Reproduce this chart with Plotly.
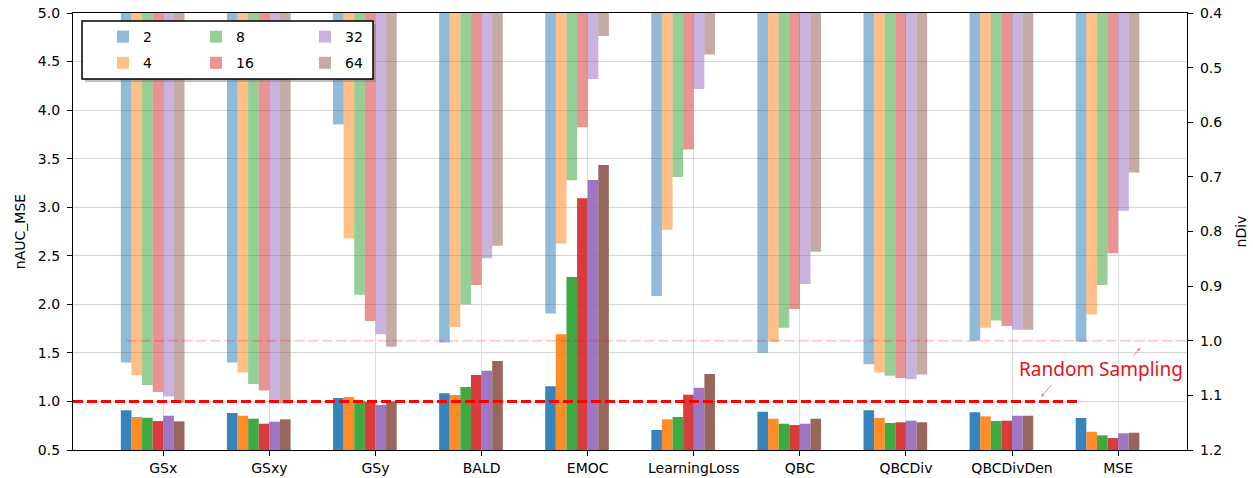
import plotly.graph_objects as go

categories = ["GSx", "GSxy", "GSy", "BALD", "EMOC", "LearningLoss", "QBC", "QBCDiv", "QBCDivDen", "MSE"]
sizes = ["2", "4", "8", "16", "32", "64"]

# nAUC_MSE (left axis, bars rising from bottom)
nauc_2 = [0.910, 0.880, 1.035, 1.084, 1.157, 0.706, 0.894, 0.909, 0.888, 0.830]
nauc_4 = [0.840, 0.853, 1.046, 1.066, 1.691, 0.816, 0.822, 0.830, 0.847, 0.688]
nauc_8 = [0.832, 0.822, 1.008, 1.149, 2.281, 0.840, 0.771, 0.778, 0.798, 0.651]
nauc_16 = [0.798, 0.771, 0.994, 1.272, 3.092, 1.069, 0.757, 0.785, 0.802, 0.623]
nauc_32 = [0.853, 0.791, 0.963, 1.317, 3.280, 1.141, 0.771, 0.802, 0.853, 0.672]
nauc_64 = [0.795, 0.816, 1.001, 1.416, 3.435, 1.282, 0.822, 0.785, 0.853, 0.678]

# nDiv (right, inverted axis, bars hanging from top)
ndiv_2 = [1.040, 1.040, 0.604, 1.003, 0.950, 0.918, 1.022, 1.043, 1.000, 1.002]
ndiv_4 = [1.063, 1.058, 0.813, 0.975, 0.822, 0.797, 1.002, 1.058, 0.976, 0.952]
ndiv_8 = [1.081, 1.079, 0.916, 0.933, 0.706, 0.700, 0.976, 1.064, 0.963, 0.898]
ndiv_16 = [1.094, 1.091, 0.964, 0.898, 0.609, 0.650, 0.942, 1.068, 0.973, 0.840]
ndiv_32 = [1.102, 1.112, 0.988, 0.849, 0.521, 0.539, 0.896, 1.070, 0.980, 0.762]
ndiv_64 = [1.113, 1.115, 1.011, 0.826, 0.442, 0.476, 0.837, 1.062, 0.980, 0.692]

random_sampling_level = 1.0
annotation_text = "Random Sampling"

nauc_all = [nauc_2, nauc_4, nauc_8, nauc_16, nauc_32, nauc_64]
ndiv_all = [ndiv_2, ndiv_4, ndiv_8, ndiv_16, ndiv_32, ndiv_64]

tab = [(31, 119, 180), (255, 127, 14), (44, 160, 44), (214, 39, 40), (148, 103, 189), (140, 86, 75)]


def rgba(c, a):
    return f"rgba({c[0]},{c[1]},{c[2]},{a})"


FONT = "DejaVu Sans"
W, H = 1253, 478
ML, MR, MT, MB = 73, 66, 13, 28
PW, PH = W - ML - MR, H - MT - MB

bar_w = 0.1
legend_ids = ["legend", "legend", "legend2", "legend2", "legend3", "legend3"]

fig = go.Figure()
for i, s in enumerate(sizes):
    off = (i - 4) * bar_w
    fig.add_trace(go.Bar(
        x=categories, y=nauc_all[i], width=bar_w, offset=off,
        marker=dict(color=rgba(tab[i], 0.9), line=dict(width=0)),
        yaxis="y", showlegend=False, name=s,
    ))
for i, s in enumerate(sizes):
    off = (i - 4) * bar_w
    fig.add_trace(go.Bar(
        x=categories, y=ndiv_all[i], width=bar_w, offset=off,
        marker=dict(color=rgba(tab[i], 0.5), line=dict(width=0)),
        yaxis="y2", showlegend=True, name=s, legend=legend_ids[i], legendgroup="g" + s,
    ))


def px_x(px):
    return (px - ML) / PW


def px_y(py):
    return 1 - (py - MT) / PH


shapes = [
    dict(type="line", xref="paper", yref="y", x0=0, x1=0.905,
         y0=random_sampling_level, y1=random_sampling_level,
         line=dict(color="red", width=3, dash="10px,4px"), layer="above"),
    dict(type="line", xref="paper", yref="y2", x0=0.048, x1=1,
         y0=random_sampling_level, y1=random_sampling_level,
         line=dict(color="rgba(255,0,0,0.2)", width=2, dash="10px,4px"), layer="above"),
    dict(type="rect", xref="paper", yref="paper",
         x0=px_x(85), x1=px_x(376), y0=px_y(82), y1=px_y(24),
         fillcolor="rgba(128,128,128,0.5)", line=dict(width=0), layer="above"),
    dict(type="rect", xref="paper", yref="paper",
         x0=px_x(82), x1=px_x(373), y0=px_y(79), y1=px_y(21),
         fillcolor="white", line=dict(color="black", width=1.5), layer="above"),
]

annotations = [
    dict(x=8.84, y=1.334, xref="x", yref="y", text=annotation_text, showarrow=False,
         font=dict(family="Noto Sans", size=19, color="#e8101a")),
    dict(x=8.275, y=1.049, ax=8.385, ay=1.187, xref="x", yref="y", axref="x", ayref="y",
         text="", showarrow=True, arrowhead=2, arrowsize=0.8, arrowwidth=0.8,
         arrowcolor="rgba(232,16,26,0.6)"),
    dict(x=9.208, y=1.553, ax=9.130, ay=1.450, xref="x", yref="y", axref="x", ayref="y",
         text="", showarrow=True, arrowhead=2, arrowsize=0.8, arrowwidth=0.8,
         arrowcolor="rgba(232,16,26,0.6)"),
]

leg_common = dict(bgcolor="rgba(0,0,0,0)", borderwidth=0, font=dict(family=FONT, size=14, color="black"),
                  xanchor="left", yanchor="top", orientation="v", tracegroupgap=5, itemwidth=30)

axis_common = dict(showline=True, linecolor="black", linewidth=1.3, zeroline=False,
                   ticks="outside", ticklen=5, tickwidth=1.2, tickcolor="black",
                   automargin=False,
                   tickfont=dict(family=FONT, size=14, color="black"))

fig.update_layout(
    width=W, height=H,
    margin=dict(l=ML, r=MR, t=MT, b=MB, pad=0, autoexpand=False),
    paper_bgcolor="white", plot_bgcolor="white",
    barmode="overlay",
    font=dict(family=FONT, size=14, color="black"),
    xaxis=dict(type="category", range=[-0.851, 9.649], showgrid=True, gridcolor="#dcdcdc", gridwidth=1,
               mirror=True, ticklabelstandoff=0, **axis_common),
    yaxis=dict(range=[0.5, 5.0], dtick=0.5, tickformat=".1f", showgrid=True, gridcolor="#d4d4d4", gridwidth=1.3,
               ticklabelstandoff=4,
               title=dict(text="nAUC_MSE", font=dict(family=FONT, size=14), standoff=8), **axis_common),
    yaxis2=dict(range=[1.2, 0.4], dtick=0.1, tickformat=".1f", overlaying="y", side="right",
                showgrid=False, ticklabelstandoff=4,
                title=dict(text="nDiv", font=dict(family=FONT, size=14), standoff=14), **axis_common),
    legend=dict(x=px_x(103), y=px_y(21), **leg_common),
    legend2=dict(x=px_x(196), y=px_y(21), **leg_common),
    legend3=dict(x=px_x(305), y=px_y(21), **leg_common),
    shapes=shapes,
    annotations=annotations,
)

fig.write_html("out.html")
